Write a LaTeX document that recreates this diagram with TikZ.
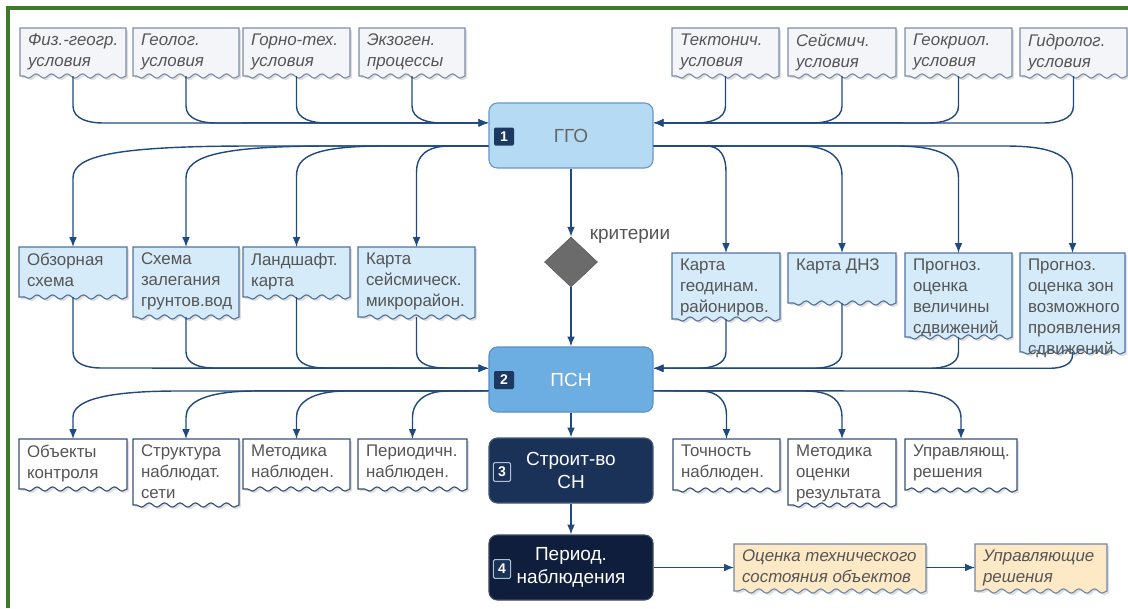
\documentclass[tikz,border=0pt]{standalone}
\usepackage{fontspec}
\setmainfont{Liberation Sans}
\usetikzlibrary{calc,arrows.meta,backgrounds,shadows,shapes.geometric,decorations.pathmorphing}

\definecolor{frameGreen}{HTML}{3F7A2B}
\definecolor{flowBlue}{HTML}{1F4A7F}
\definecolor{txtGray}{HTML}{555555}
\definecolor{topFill}{HTML}{F3F5F8}
\definecolor{topLine}{HTML}{7C8DA8}
\definecolor{midFill}{HTML}{D5EBF9}
\definecolor{midLine}{HTML}{4F73A0}
\definecolor{lowLine}{HTML}{35507A}
\definecolor{resFill}{HTML}{FDE9C6}
\definecolor{resLine}{HTML}{6F88AA}
\definecolor{ggoFill}{HTML}{B5DAF3}
\definecolor{ggoLine}{HTML}{6A95C4}
\definecolor{psnFill}{HTML}{6CADE2}
\definecolor{psnLine}{HTML}{5B90C5}
\definecolor{navyFill}{HTML}{1A3158}
\definecolor{navyDark}{HTML}{0F1E3C}
\definecolor{badgeFill}{HTML}{1D3861}
\definecolor{critGray}{HTML}{6B6B6B}

% sheet with a torn lower edge: name, width, height, style
\newcommand\docsheet[4]{%
  \coordinate (#1-n) at ($(#1.north west)+(#2/2,0)$);
  \coordinate (#1-s) at ($(#1.north west)+(#2/2,#3)$);
  \coordinate (#1-w) at ($(#1.north west)+(0,#3/2)$);
  \coordinate (#1-e) at ($(#1.north west)+(#2,#3/2)$);
  \begin{scope}[on background layer]
    \draw[#4] decorate[decoration={snake,amplitude=1.5pt,segment length=11pt}]
      {($(#1.north west)+(#2,#3)$) -- ($(#1.north west)+(0,#3)$)}
      -- (#1.north west) -- ($(#1.north west)+(#2,0)$) -- cycle;
  \end{scope}}

\tikzset{
  flow/.style={draw=flowBlue, line width=1pt, -{Latex[length=7pt,width=5.5pt]}},
  sheet/.style={anchor=north west, inner xsep=5.5pt, inner ysep=4pt, align=left,
    text=txtGray, font=\fontsize{12}{14.9}\selectfont},
  sheet it/.style={sheet, font=\fontsize{12}{14.9}\selectfont\itshape},
  shadowed/.style={drop shadow={opacity=0.25,shadow xshift=1.5pt,shadow yshift=-1.5pt}},
  top sheet/.style={draw=topLine, fill=topFill, line width=0.8pt, shadowed},
  mid sheet/.style={draw=midLine, fill=midFill, line width=0.8pt, shadowed},
  low sheet/.style={draw=lowLine, fill=white, line width=0.8pt, shadowed},
  res sheet/.style={draw=resLine, fill=resFill, line width=0.8pt, shadowed},
  stage/.style={rounded corners=6pt, minimum width=4.1cm, minimum height=1.625cm,
    line width=0.8pt, align=center, font=\fontsize{13.5}{16.5}\selectfont},
  badge/.style={fill=badgeFill, text=white, font=\bfseries\fontsize{10}{10}\selectfont,
    minimum width=0.5cm, minimum height=0.45cm, inner sep=0pt, rounded corners=1pt},
  badge framed/.style={badge, fill=navyFill, draw=white!65!flowBlue, line width=0.8pt,
    minimum width=0.43cm, minimum height=0.47cm}
}

\begin{document}
\begin{tikzpicture}[x=0.025cm, y=-0.025cm]
\useasboundingbox (0,0) rectangle (1128,608);
\draw[frameGreen, line width=2.2pt] (8,608) -- (8,8) -- (1128,8);

% stages
\node[stage, fill=ggoFill, draw=ggoLine, text=txtGray!90] (ggo) at (571,135.5) {ГГО};
\node[stage, fill=psnFill, draw=psnLine, text=white] (psn) at (571,379.5) {ПСН};
\node[stage, fill=navyFill, draw=navyFill!80!white, text=white] (stroit) at (571,470.5) {Строит-во\\СН};
\node[stage, fill=navyDark, draw=navyDark!80!white, text=white] (period) at (571,567.5) {Период.\\наблюдения};
\node[badge] (b1) at (504,136.5) {1};
\node[badge] (b2) at (504,380) {2};
\node[badge framed] (b3) at (502,472) {3};
\node[badge framed] (b4) at (502,569) {4};

\node[diamond, fill=critGray, draw=critGray!85!black, minimum width=1.325cm,
  minimum height=1.25cm, inner sep=0pt] (crit) at (571,262) {};
\node[text=txtGray, font=\fontsize{13.5}{16}\selectfont] (critlbl) at (630,236) {критерии};

% conditions
\node[sheet it] (fiz) at (20,28) {Физ.-геогр.\\условия};
\docsheet{fiz}{106}{48}{top sheet}
\node[sheet it] (geol) at (133,28) {Геолог.\\условия};
\docsheet{geol}{106}{48}{top sheet}
\node[sheet it] (gorn) at (243,28) {Горно-тех.\\условия};
\docsheet{gorn}{107}{48}{top sheet}
\node[sheet it] (ekzo) at (359,28) {Экзоген.\\процессы};
\docsheet{ekzo}{106}{48}{top sheet}
\node[sheet it] (tekt) at (672,28) {Тектонич.\\условия};
\docsheet{tekt}{107}{48}{top sheet}
\node[sheet it] (seism) at (788,28) {Сейсмич.\\условия};
\docsheet{seism}{108}{48}{top sheet}
\node[sheet it] (geokr) at (905,28) {Геокриол.\\условия};
\docsheet{geokr}{107}{48}{top sheet}
\node[sheet it] (gidro) at (1020,28) {Гидролог.\\условия};
\docsheet{gidro}{107}{48}{top sheet}

% maps and schemes
\node[sheet] (obz) at (19,247) {Обзорная\\схема};
\docsheet{obz}{108}{50}{mid sheet}
\node[sheet] (shema) at (133,247) {Схема\\залегания\\грунтов.вод};
\docsheet{shema}{106}{70}{mid sheet}
\node[sheet] (land) at (243,247) {Ландшафт.\\карта};
\docsheet{land}{107}{50}{mid sheet}
\node[sheet] (karta) at (358,247) {Карта\\сейсмическ.\\микрорайон.};
\docsheet{karta}{117}{70}{mid sheet}
\node[sheet] (geodin) at (672,253) {Карта\\геодинам.\\райониров.};
\docsheet{geodin}{108}{66}{mid sheet}
\node[sheet] (dnz) at (788,253) {Карта ДНЗ};
\docsheet{dnz}{108}{50}{mid sheet}
\node[sheet] (prog1) at (905,253) {Прогноз.\\оценка\\величины\\сдвижений};
\docsheet{prog1}{107}{84}{mid sheet}
\node[sheet] (prog2) at (1020,253) {Прогноз.\\оценка зон\\возможного\\проявления\\сдвижений};
\docsheet{prog2}{105}{99}{mid sheet}

% project parts
\node[sheet] (obj) at (19,439) {Объекты\\контроля};
\docsheet{obj}{108}{50}{low sheet}
\node[sheet] (strukt) at (133,439) {Структура\\наблюдат.\\сети};
\docsheet{strukt}{106}{66}{low sheet}
\node[sheet] (metod) at (243,439) {Методика\\наблюден.};
\docsheet{metod}{107}{50}{low sheet}
\node[sheet] (perio) at (358,439) {Периодичн.\\наблюден.};
\docsheet{perio}{109}{50}{low sheet}
\node[sheet] (tochn) at (673,439) {Точность\\наблюден.};
\docsheet{tochn}{107}{51}{low sheet}
\node[sheet] (metod2) at (788,439) {Методика\\оценки\\результата};
\docsheet{metod2}{108}{66}{low sheet}
\node[sheet] (uprav) at (905,439) {Управляющ.\\решения};
\docsheet{uprav}{112}{51}{low sheet}

% results
\node[sheet it] (ocenka) at (734,544) {Оценка технического\\состояния объектов};
\docsheet{ocenka}{192}{47}{res sheet}
\node[sheet it] (reshen) at (975,544) {Управляющие\\решения};
\docsheet{reshen}{132}{47}{res sheet}

% into GGO
\foreach \n in {fiz,geol,gorn,ekzo}
  \draw[flow] (\n-s) -- ++(0,30) to[out=-90,in=180] ++(30,17) -- ([yshift=9pt]ggo.west);
\foreach \n in {tekt,seism,geokr,gidro}
  \draw[flow] (\n-s) -- ++(0,30) to[out=-90,in=0] ++(-30,17) -- ([yshift=9pt]ggo.east);

% out of GGO
\draw[flow] ([yshift=-7.5pt]ggo.west) -- (253,146) .. controls +(-140,0) and +(0,-22) .. (73,178) -- (obz-n);
\draw[flow] ([yshift=-7.5pt]ggo.west) -- (330,146) .. controls +(-110,0) and +(0,-22) .. (186,178) -- (shema-n);
\draw[flow] ([yshift=-7.5pt]ggo.west) -- (385,146) .. controls +(-70,0) and +(0,-20) .. (296.5,176) -- (land-n);
\draw[flow] ([yshift=-7.5pt]ggo.west) -- (450,146) .. controls +(-25,0) and +(0,-15) .. (416.5,172) -- (karta-n);
\draw[flow] ([yshift=-7.5pt]ggo.east) -- (706,146) .. controls +(15,0) and +(0,-15) .. (726,172) -- (geodin-n);
\draw[flow] ([yshift=-7.5pt]ggo.east) -- (800,146) .. controls +(30,0) and +(0,-18) .. (842,176) -- (dnz-n);
\draw[flow] ([yshift=-7.5pt]ggo.east) -- (895,146) .. controls +(45,0) and +(0,-22) .. (958.5,178) -- (prog1-n);
\draw[flow] ([yshift=-7.5pt]ggo.east) -- (1005,146) .. controls +(50,0) and +(0,-24) .. (1072.5,180) -- (prog2-n);

\draw[flow] (ggo) -- (crit);
\draw[flow] (crit) -- (psn);

% into PSN
\draw[flow] (obz-s) -- ++(0,55) to[out=-90,in=180] ++(28,16) -- ([yshift=8pt]psn.west);
\draw[flow] (shema-s) -- ++(0,35) to[out=-90,in=180] ++(28,16) -- ([yshift=8pt]psn.west);
\draw[flow] (land-s) -- ++(0,55) to[out=-90,in=180] ++(28,16) -- ([yshift=8pt]psn.west);
\draw[flow] (karta-s) -- ++(0,35) to[out=-90,in=180] ++(28,16) -- ([yshift=8pt]psn.west);
\draw[flow] (geodin-s) -- ++(0,33) to[out=-90,in=0] ++(-28,16.25) -- ([yshift=8pt]psn.east);
\draw[flow] (dnz-s) -- ++(0,49) to[out=-90,in=0] ++(-28,16.25) -- ([yshift=8pt]psn.east);
\draw[flow] (prog1-s) -- ++(0,15) to[out=-90,in=0] ++(-28,16.25) -- ([yshift=8pt]psn.east);
\draw[flow] (prog2-s) -- ++(0,3) to[out=-90,in=0] ++(-22,13.25) -- ([yshift=8pt]psn.east);

% out of PSN
\draw[flow] ([yshift=-8pt]psn.west) -- (178,391) .. controls +(-75,0) and +(0,-16) .. (73,417) -- (obj-n);
\draw[flow] ([yshift=-8pt]psn.west) -- (256,391) .. controls +(-50,0) and +(0,-15) .. (186,417) -- (strukt-n);
\draw[flow] ([yshift=-8pt]psn.west) -- (346.5,391) .. controls +(-35,0) and +(0,-14) .. (296.5,417) -- (metod-n);
\draw[flow] ([yshift=-8pt]psn.west) -- (447.5,391) .. controls +(-25,0) and +(0,-13) .. (412.5,417) -- (perio-n);
\draw[flow] ([yshift=-8pt]psn.east) -- (700,391) .. controls +(18,0) and +(0,-14) .. (726.5,415) -- (tochn-n);
\draw[flow] ([yshift=-8pt]psn.east) -- (805,391) .. controls +(28,0) and +(0,-15) .. (842,417) -- (metod2-n);
\draw[flow] ([yshift=-8pt]psn.east) -- (905,391) .. controls +(40,0) and +(0,-16) .. (961,418) -- (uprav-n);

\draw[flow] (psn) -- (stroit);
\draw[flow] (stroit) -- (period);
\draw[flow] (period) -- (ocenka-w);
\draw[flow] (ocenka-e) -- (reshen-w);
\end{tikzpicture}
\end{document}
